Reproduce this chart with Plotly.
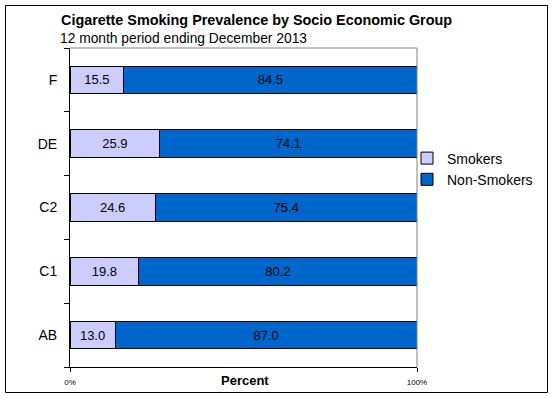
import plotly.graph_objects as go

categories = ["AB", "C1", "C2", "DE", "F"]
smokers = [13.0, 19.8, 24.6, 25.9, 15.5]
non_smokers = [87.0, 80.2, 75.4, 74.1, 84.5]
x_tick_vals = [0, 100]
x_tick_text = ["0%", "100%"]

FONT = "Liberation Sans, Arial, sans-serif"

fig = go.Figure()
fig.add_trace(go.Bar(
    y=categories, x=smokers, orientation="h", name="Smokers", legendgroup="s",
    marker=dict(color="#CCCCFF", line=dict(color="black", width=1)),
    text=smokers, texttemplate="%{x:.1f}", textposition="inside",
    insidetextanchor="middle", textfont=dict(color="black", size=13, family=FONT),
    constraintext="none",
))
fig.add_trace(go.Bar(
    y=categories, x=non_smokers, orientation="h", name="Non-Smokers", legendgroup="n",
    marker=dict(color="#0066CC", line=dict(color="black", width=1)),
    text=non_smokers, texttemplate="%{x:.1f}", textposition="inside",
    insidetextanchor="middle", textfont=dict(color="black", size=13, family=FONT),
    constraintext="none",
))

L, R, T, B = 70, 136, 48, 31
W, H = 553, 398
pw, ph = W - L - R, H - T - B

def px(x):
    return (x - L) / pw

def py(y):
    return (H - B - y) / ph

fig.update_layout(
    width=W, height=H, barmode="stack", bargap=0.57,
    margin=dict(l=L, r=R, t=T, b=B, autoexpand=False),
    paper_bgcolor="white", plot_bgcolor="white",
    font=dict(family=FONT, color="black", size=12),
    showlegend=True,
    legend=dict(x=px(407), y=py(169), xanchor="left", yanchor="middle",
                font=dict(size=14, family=FONT), traceorder="normal",
                itemwidth=30, tracegroupgap=6, bgcolor="rgba(0,0,0,0)"),
    xaxis=dict(range=[0, 100], tickvals=x_tick_vals, ticktext=x_tick_text,
               showgrid=False, zeroline=False, showline=True, linecolor="black",
               linewidth=1, ticks="outside", ticklen=4, tickcolor="black",
               tickfont=dict(size=8, family=FONT), ticklabelstandoff=3),
    yaxis=dict(categoryorder="array", categoryarray=categories,
               showgrid=False, showline=True, linecolor="black", linewidth=1,
               ticks="outside", ticklen=5, tickcolor="black", tickson="boundaries",
               tickfont=dict(size=14, family=FONT), ticklabelstandoff=9),
    shapes=[
        dict(type="line", xref="paper", yref="paper", x0=0, x1=1, y0=1, y1=1,
             line=dict(color="#808080", width=1)),
        dict(type="line", xref="paper", yref="paper", x0=1, x1=1, y0=0, y1=1,
             line=dict(color="#808080", width=1)),
        dict(type="rect", xref="paper", yref="paper",
             x0=px(5.5), x1=px(547.5), y0=py(392.5), y1=py(5.5),
             line=dict(color="black", width=1), fillcolor="rgba(0,0,0,0)"),
    ],
    annotations=[
        dict(text="<b>Cigarette Smoking Prevalence by Socio Economic Group</b>",
             xref="paper", yref="paper", x=px(59), y=py(20), xanchor="left",
             yanchor="middle", showarrow=False, font=dict(size=14.4, family=FONT)),
        dict(text="12 month period ending December 2013",
             xref="paper", yref="paper", x=px(58), y=py(38), xanchor="left",
             yanchor="middle", showarrow=False, font=dict(size=13.8, family=FONT)),
        dict(text="<b>Percent</b>",
             xref="paper", yref="paper", x=px(245), y=py(380), xanchor="center",
             yanchor="middle", showarrow=False, font=dict(size=13, family=FONT)),
    ],
)

fig.write_html("out.html", config={"displayModeBar": False},
               post_script="document.body.style.margin='0';")
